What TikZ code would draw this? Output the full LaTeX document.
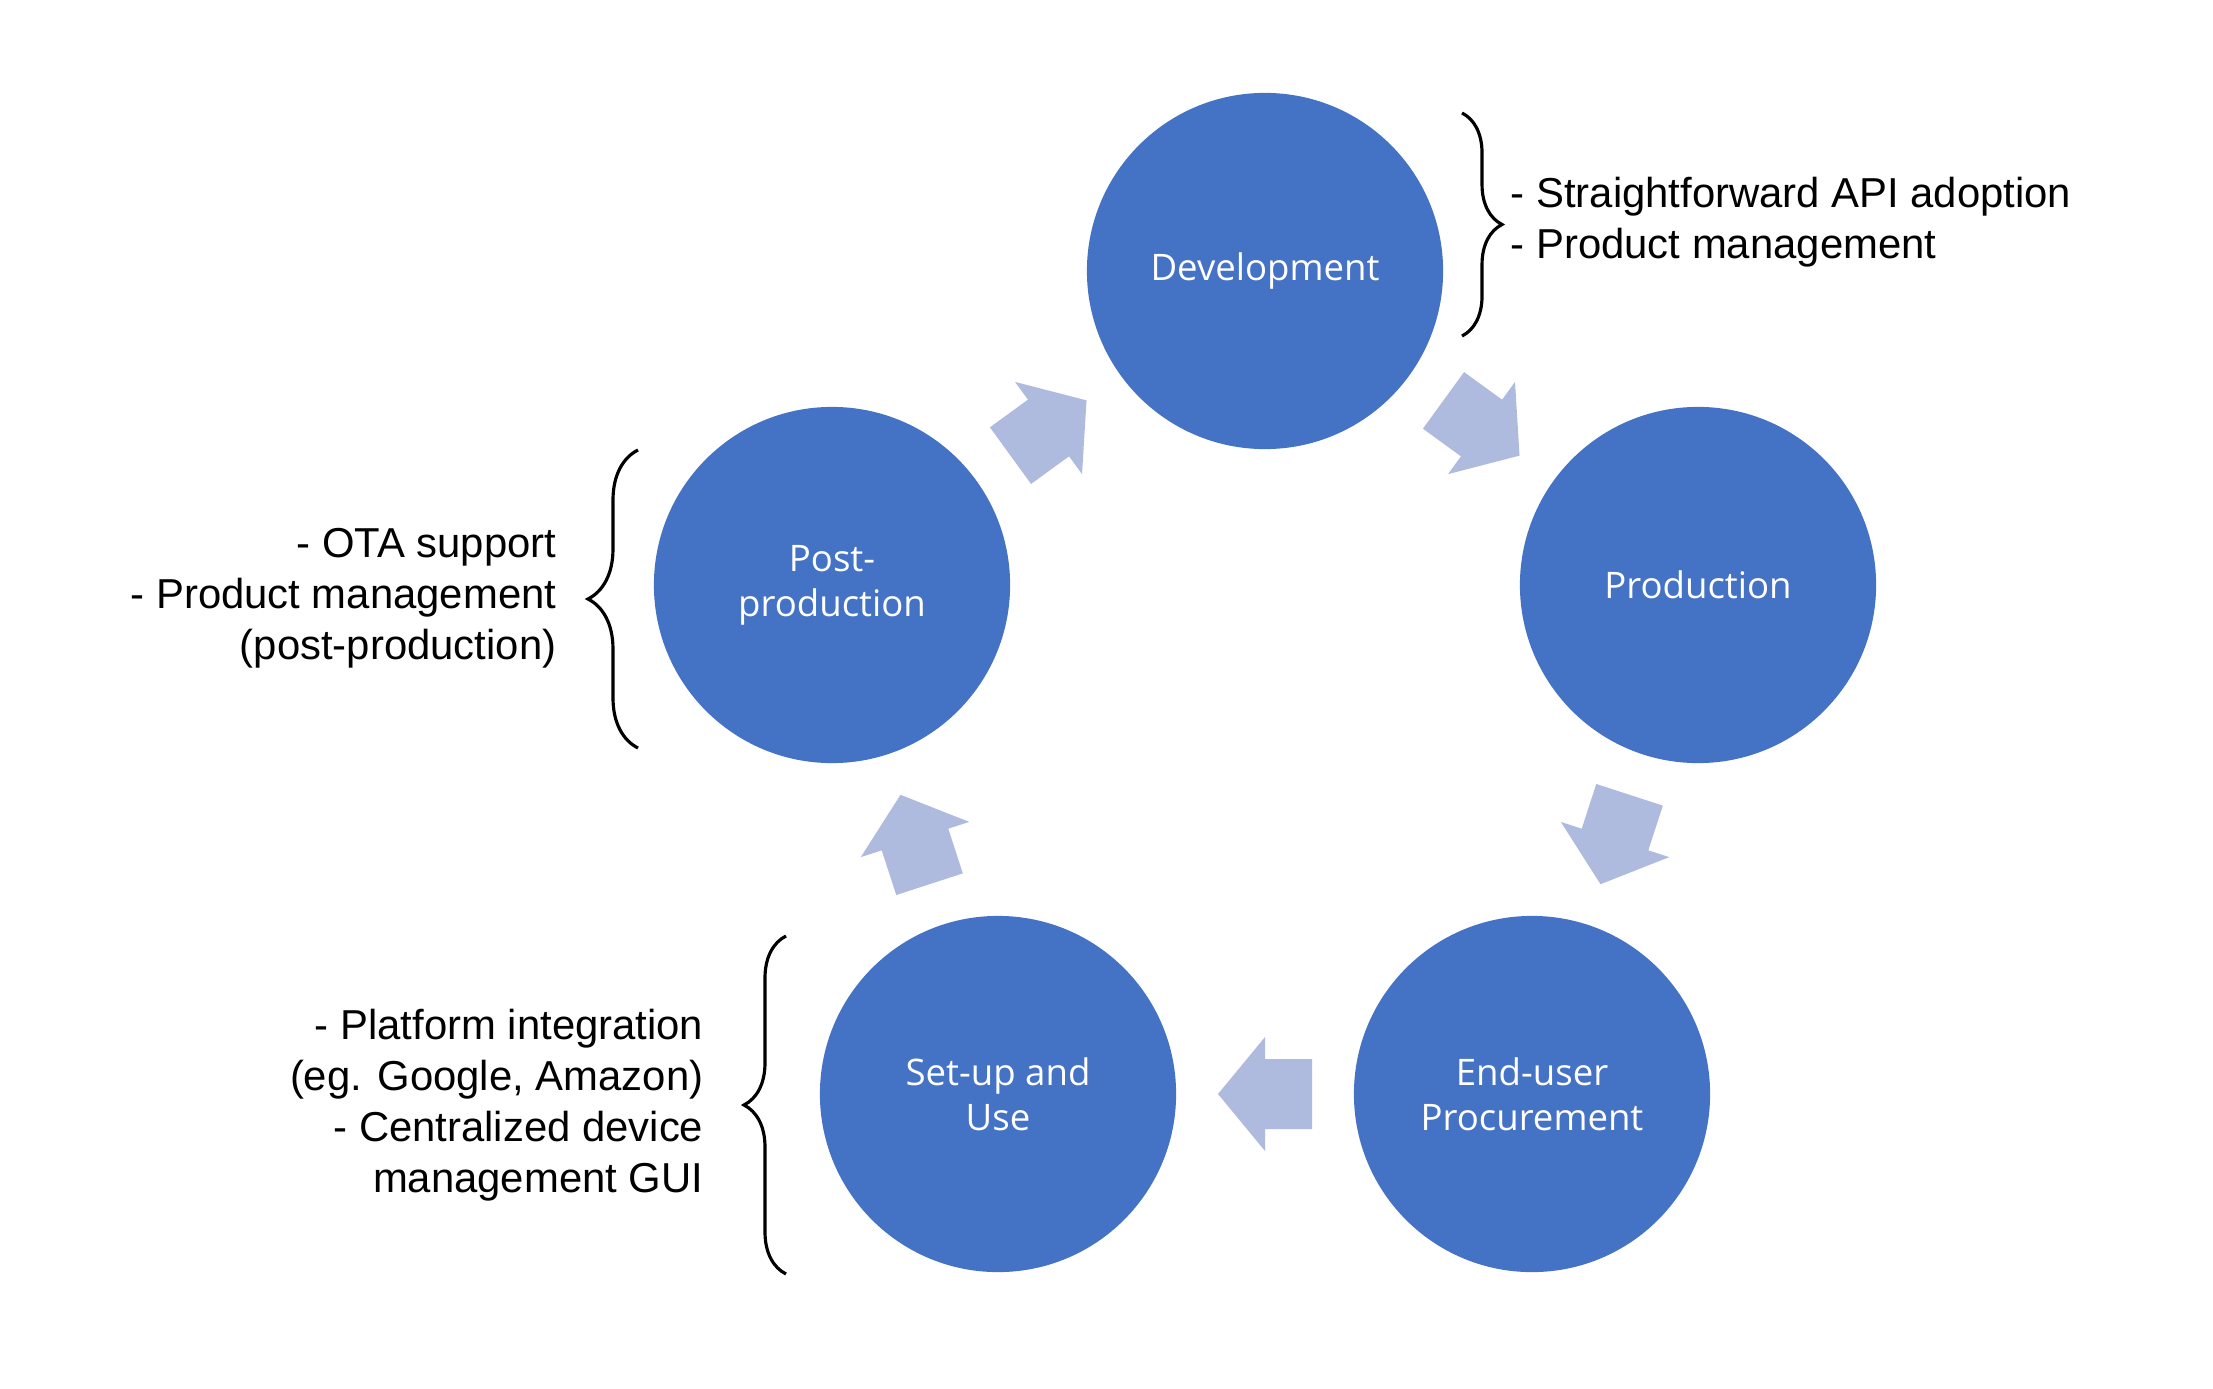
\documentclass[tikz,border=0pt]{standalone}
\usepackage{fontspec}
\setmainfont{Liberation Sans}
\newfontfamily\stagefont{Open Sans}
\usetikzlibrary{calc,decorations.pathreplacing}

\definecolor{stageblue}{HTML}{4472C4}
\definecolor{arrowblue}{HTML}{AEBBDF}

\tikzset{
    stage/.style={circle, fill=stageblue, minimum size=3.56cm, inner sep=0pt,
        text=white, align=center, font=\stagefont\fontsize{10.4}{12.8}\selectfont},
    note/.style={inner sep=0pt, font=\fontsize{11.9}{14.45}\selectfont},
    curly/.style={decorate, line width=0.9pt, decoration={brace, amplitude=#1}},
}

\begin{document}
\begin{tikzpicture}[x=0.01cm, y=-0.01cm]
        \useasboundingbox (0,0) rectangle (2213,1388);
        % Stages
        \node[stage] (dev) at (1265,271) {Development};
        \node[stage] (prod) at (1698,585) {Production};
        \node[stage] (enduser) at (1532,1094) {End-user\\Procurement};
        \node[stage] (setup) at (998,1094) {Set-up and\\Use};
        \node[stage] (post) at (832,585) {Post-\\production};
        % Block arrows between stages
        \foreach \a/\b/\ang in {dev/prod/-36, prod/enduser/-108, enduser/setup/180, setup/post/108, post/dev/36} {
            \coordinate (mid) at ($(\a)!0.5!(\b)$);
            \fill[arrowblue, shift={(mid)}, rotate=\ang]
                (-47,-35) -- (0,-35) -- (0,-57) -- (47,0) -- (0,57) -- (0,35) -- (-47,35) -- cycle;
        }
        % Braces
        \coordinate (devtop) at (1462,113);
        \coordinate (devbot) at (1462,336);
        \draw[curly=0.4cm] (devtop) -- (devbot);
        \coordinate (posttop) at (638,450);
        \coordinate (postbot) at (638,748);
        \draw[curly=0.5cm] (postbot) -- (posttop);
        \coordinate (setuptop) at (786,936);
        \coordinate (setupbot) at (786,1274);
        \draw[curly=0.42cm] (setupbot) -- (setuptop);
        % Notes
        \node[note, anchor=west, align=left] (devnote) at (1510,222)
            {- Straightforward API adoption\\- Product management};
        \node[note, anchor=east, align=right] (postnote) at (557,598)
            {- OTA support\\- Product management\\(post-production)};
        \node[note, anchor=east, align=right] (setupnote) at (704,1105)
            {- Platform integration\\(eg. Google, Amazon)\\- Centralized device\\management GUI};
\end{tikzpicture}
\end{document}
